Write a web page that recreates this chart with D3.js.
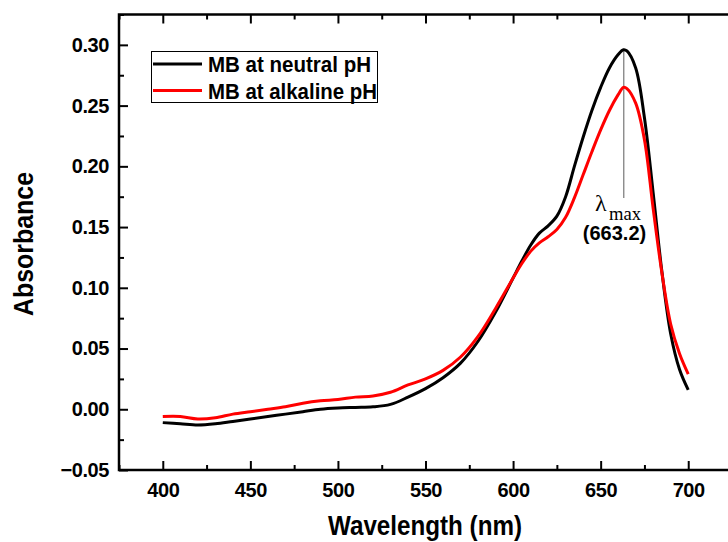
<!DOCTYPE html>
<html>
<head>
<meta charset="utf-8">
<script src="https://cdn.jsdelivr.net/npm/d3@7"></script>
<style>
  body { margin: 0; background: #fff; }
  svg { display: block; }
  .tick text { font-family: "Liberation Sans", Arial, sans-serif; font-weight: bold; font-size: 20px; letter-spacing: -0.4px; }
</style>
</head>
<body>
<script>
// wavelength grid (nm)
const wavelengths = [400,410,420,430,440,450,460,470,480,490,500,510,520,530,540,550,560,570,580,590,600,605,610,615,620,625,630,635,640,645,650,655,660,663,665,670,675,680,685,690,695,700];
// MB at neutral pH
const neutral = [-0.011,-0.012,-0.013,-0.012,-0.010,-0.008,-0.006,-0.004,-0.002,0.000,0.001,0.0015,0.002,0.004,0.010,0.017,0.026,0.038,0.056,0.080,0.108,0.122,0.135,0.145,0.151,0.159,0.175,0.200,0.224,0.246,0.265,0.281,0.292,0.296,0.295,0.281,0.240,0.178,0.113,0.062,0.033,0.016];
// MB at alkaline pH
const alkaline = [-0.006,-0.006,-0.008,-0.007,-0.004,-0.002,0.000,0.002,0.005,0.007,0.008,0.010,0.011,0.014,0.020,0.025,0.032,0.043,0.060,0.083,0.108,0.120,0.130,0.137,0.142,0.148,0.158,0.174,0.193,0.212,0.230,0.246,0.259,0.265,0.264,0.252,0.222,0.165,0.112,0.070,0.046,0.029];

const xTicks = [400,450,500,550,600,650,700];
const yTicks = [-0.05,0.00,0.05,0.10,0.15,0.20,0.25,0.30];
const lambdaMax = 663.2;

const series = [
  {name: "MB at neutral pH", values: neutral, color: "#000000", len: 163},
  {name: "MB at alkaline pH", values: alkaline, color: "#ff0000", len: 169}
];

const width = 728, height = 542;
const svg = d3.select("body").append("svg")
  .attr("width", width)
  .attr("height", height);

// right part of the frame falls outside the picture
const x = d3.scaleLinear().domain([375, 750]).range([119, 775.8]);
const y = d3.scaleLinear().domain([-0.05, 0.325]).range([470, 14.5]);

const minorX = d3.range(375, 751, 25).filter(v => !xTicks.includes(v));
const minorY = d3.range(-0.025, 0.33, 0.05);

function minor(axis, vals, pos) {
  svg.append("g").attr("transform", pos)
    .call(axis.tickValues(vals).tickSize(-5).tickFormat(""))
    .call(g => g.select(".domain").remove())
    .call(g => g.selectAll("line").attr("stroke-width", 2));
}
minor(d3.axisBottom(x), minorX, `translate(0,${y(-0.05)})`);
minor(d3.axisTop(x), minorX, `translate(0,${y(0.325)})`);
minor(d3.axisLeft(y), minorY, `translate(${x(375)},0)`);

const fmt = d3.format(".2f");
svg.append("g").attr("transform", `translate(0,${y(-0.05)})`)
  .call(d3.axisBottom(x).tickValues(xTicks).tickSize(-9).tickPadding(13).tickFormat(d3.format("d")))
  .call(g => g.select(".domain").remove())
  .call(g => g.selectAll("line").attr("stroke-width", 2))
  .call(g => g.selectAll("text").attr("fill", "#000"));
svg.append("g").attr("transform", `translate(0,${y(0.325)})`)
  .call(d3.axisTop(x).tickValues(xTicks).tickSize(-9).tickFormat(""))
  .call(g => g.select(".domain").remove())
  .call(g => g.selectAll("line").attr("stroke-width", 2));
svg.append("g").attr("transform", `translate(${x(375)},0)`)
  .call(d3.axisLeft(y).tickValues(yTicks).tickSize(-9).tickPadding(10).tickFormat(fmt))
  .call(g => g.select(".domain").remove())
  .call(g => g.selectAll("line").attr("stroke-width", 2))
  .call(g => g.selectAll("text").attr("fill", "#000"));

// frame
svg.append("rect")
  .attr("x", x(375)).attr("y", y(0.325))
  .attr("width", x(750) - x(375)).attr("height", y(-0.05) - y(0.325))
  .attr("fill", "none").attr("stroke", "#000").attr("stroke-width", 2.5);

// lambda max marker
const peak = neutral[wavelengths.indexOf(663)];
svg.append("line")
  .attr("x1", x(lambdaMax)).attr("x2", x(lambdaMax))
  .attr("y1", y(peak)).attr("y2", 198)
  .attr("stroke", "#777").attr("stroke-width", 1.2);

// curves
const line = d3.line()
  .x((d, i) => x(wavelengths[i]))
  .y(d => y(d))
  .curve(d3.curveCatmullRom);

svg.append("g").selectAll("path")
  .data(series)
  .join("path")
  .attr("d", d => line(d.values))
  .attr("fill", "none")
  .attr("stroke", d => d.color)
  .attr("stroke-width", 3)
  .attr("stroke-linejoin", "round");

// annotation text
svg.append("text")
  .attr("x", 595).attr("y", 211)
  .attr("font-family", "Liberation Serif, Times New Roman, serif")
  .attr("font-size", 24)
  .text("λ");
svg.append("text")
  .attr("x", 609).attr("y", 219.5)
  .attr("font-family", "Liberation Serif, Times New Roman, serif")
  .attr("font-size", 19)
  .attr("textLength", 32).attr("lengthAdjust", "spacingAndGlyphs")
  .text("max");

svg.append("text")
  .attr("x", 614.5).attr("y", 240)
  .attr("text-anchor", "middle")
  .attr("font-family", "Liberation Sans, Arial, sans-serif")
  .attr("font-weight", "bold").attr("font-size", 20)
  .text("(663.2)");

// legend
const legend = svg.append("g");
legend.append("rect")
  .attr("x", 151.5).attr("y", 51.5).attr("width", 226).attr("height", 51)
  .attr("fill", "#fff").attr("stroke", "#000").attr("stroke-width", 1);
const li = legend.selectAll("g.item")
  .data(series)
  .join("g")
  .attr("class", "item")
  .attr("transform", (d, i) => `translate(0,${64 + i * 26.5})`);
li.append("line")
  .attr("x1", 153).attr("x2", 202)
  .attr("stroke", d => d.color).attr("stroke-width", 3);
li.append("text")
  .attr("x", 208).attr("y", 8)
  .attr("font-family", "Liberation Sans, Arial, sans-serif")
  .attr("font-weight", "bold").attr("font-size", 22.5)
  .attr("textLength", d => d.len).attr("lengthAdjust", "spacingAndGlyphs")
  .text(d => d.name);

// axis titles
svg.append("text")
  .attr("x", 328).attr("y", 535)
  .attr("font-family", "Liberation Sans, Arial, sans-serif")
  .attr("font-weight", "bold").attr("font-size", 27)
  .attr("textLength", 194).attr("lengthAdjust", "spacingAndGlyphs")
  .text("Wavelength (nm)");
svg.append("text")
  .attr("transform", "translate(32.5,244) rotate(-90)")
  .attr("text-anchor", "middle")
  .attr("font-family", "Liberation Sans, Arial, sans-serif")
  .attr("font-weight", "bold").attr("font-size", 27)
  .attr("textLength", 144).attr("lengthAdjust", "spacingAndGlyphs")
  .text("Absorbance");
</script>
</body>
</html>
